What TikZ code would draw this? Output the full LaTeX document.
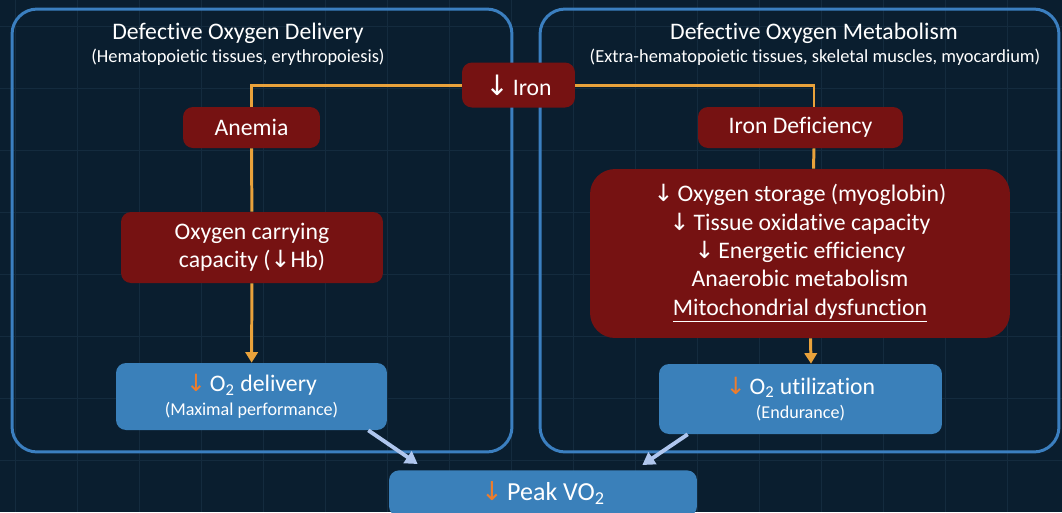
\documentclass[tikz,border=0pt]{standalone}
\usepackage{fontspec}
\setmainfont{Carlito}[Ligatures=NoCommon]
\newfontfamily\arrowfont{DejaVu Sans}
\usetikzlibrary{arrows.meta, positioning}
\definecolor{bgnavy}{HTML}{0A1E2F}
\definecolor{gridline}{HTML}{142B3E}
\definecolor{panelblue}{HTML}{3B7FC0}
\definecolor{darkred}{HTML}{761212}
\definecolor{boxblue}{HTML}{3A80BA}
\definecolor{linkorange}{HTML}{E9A23B}
\definecolor{downorange}{HTML}{EE7D2C}
\definecolor{paleblue}{HTML}{AFC6EE}
\newcommand{\dn}{{\arrowfont ↓}}
\newcommand{\odn}{{\color{downorange}\arrowfont ↓}}
\newcommand{\subsize}{\fontsize{10.3}{12}\selectfont}

\begin{document}
\begin{tikzpicture}[x=0.02cm, y=-0.02cm,
    redbox/.style={rectangle, rounded corners=0.2cm, fill=darkred, text=white, align=center, inner sep=0pt, font=\fontsize{13.5}{16.1}\selectfont},
    bluebox/.style={rectangle, rounded corners=0.2cm, fill=boxblue, text=white, align=center, inner sep=0pt, font=\fontsize{13.5}{14}\selectfont},
    panel/.style={rectangle, rounded corners=0.5cm, draw=panelblue, line width=1.7pt},
    title/.style={text=white, inner sep=0pt, font=\fontsize{13.5}{14}\selectfont},
    subtitle/.style={text=white, inner sep=0pt, font=\fontsize{10.5}{12}\selectfont},
    link/.style={draw=linkorange, line width=1.7pt},
    arrow/.style={link, -{Triangle[width=7pt,length=6pt]}},
    merge/.style={draw=paleblue, line width=2.2pt, -{Triangle[width=8pt,length=7pt]}}]
    \useasboundingbox (0,0) rectangle (1062,512);
    \fill[bgnavy] (0,0) rectangle (1062,512);
    % grid
    \foreach \gx in {15,77,...,1062} \draw[gridline, line width=0.5pt] (\gx,0) -- (\gx,512);
    \foreach \gy in {26,88,...,512} \draw[gridline, line width=0.5pt] (0,\gy) -- (1062,\gy);
    % panels
    \node[panel, minimum width=10cm, minimum height=8.86cm] (deliv) at (262,230.5) {};
    \node[panel, minimum width=10.38cm, minimum height=8.86cm] (metab) at (799.5,230.5) {};
    \node[title] (delivtitle) at (238,33) {Defective Oxygen Delivery};
    \node[subtitle] (delivsub) at (238,57) {(Hematopoietic tissues, erythropoiesis)};
    \node[title] (metabtitle) at (814,33) {Defective Oxygen Metabolism};
    \node[subtitle] (metabsub) at (815,57) {(Extra-hematopoietic tissues, skeletal muscles, myocardium)};
    % nodes
    \node[redbox, minimum width=2.26cm, minimum height=0.9cm] (iron) at (518.5,85) {{\arrowfont\fontsize{16}{16}\selectfont ↓}\,Iron};
    \node[redbox, minimum width=2.74cm, minimum height=0.82cm] (anemia) at (251.5,127.5) {Anemia};
    \node[redbox, minimum width=4.1cm, minimum height=0.82cm] (irondef) at (800.5,127.5) {Iron Deficiency};
    \node[redbox, minimum width=5.24cm, minimum height=1.42cm] (carry) at (252,247.5) {Oxygen carrying\\capacity (\dn Hb)};
    \node[redbox, rounded corners=0.5cm, minimum width=8.4cm, minimum height=3.38cm, font=\fontsize{13.5}{16.2}\selectfont] (effects) at (800,253.5)
        {\dn\,Oxygen storage (myoglobin)\\ \dn\,Tissue oxidative capacity\\ \dn\,Energetic efficiency\\ Anaerobic metabolism\\ \underline{Mitochondrial dysfunction}};
    \node[bluebox, minimum width=5.42cm, minimum height=1.34cm] (o2del) at (251.5,396.5) {\odn\,O\textsubscript{2} delivery\\{\subsize (Maximal performance)}};
    \node[bluebox, minimum width=5.66cm, minimum height=1.4cm] (o2use) at (800.5,399) {\odn\,O\textsubscript{2} utilization\\{\subsize (Endurance)}};
    \node[bluebox, anchor=north, minimum width=6.16cm, minimum height=0.92cm, font=\fontsize{14.8}{16}\selectfont] (peak) at (543,470) {\odn\,Peak VO\textsubscript{2}};
    % connectors
    \draw[link] (iron.west) -| (anemia.north);
    \draw[link] (iron.east) -| ([xshift=0.27cm]irondef.north);
    \draw[link] (anemia) -- (carry);
    \draw[arrow] (carry) -- (o2del);
    \draw[link] ([xshift=0.27cm]irondef.south) -- ([xshift=0.27cm]effects.north);
    \draw[arrow] ([xshift=0.21cm]effects.south) -- ([xshift=0.21cm]o2use.north);
    \draw[merge] ([xshift=-0.38cm]o2del.south east) -- ([xshift=0.58cm,yshift=0.12cm]peak.north west);
    \draw[merge] ([xshift=0.58cm]o2use.south west) -- ([xshift=-1.1cm,yshift=0.1cm]peak.north east);
\end{tikzpicture}
\end{document}
